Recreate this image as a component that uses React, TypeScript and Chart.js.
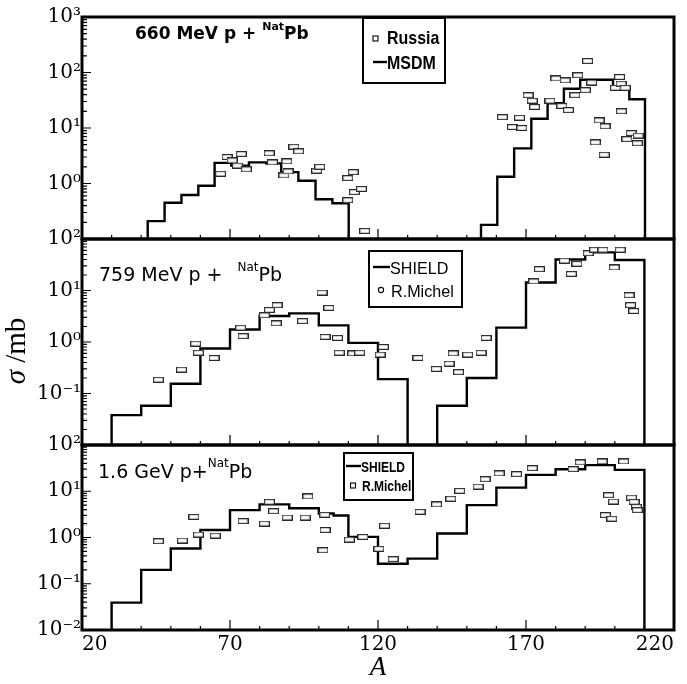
import React, { useEffect, useRef } from 'react';
import { Chart, registerables } from 'chart.js';

Chart.register(...registerables);

// ---------------- data ----------------
const xTickLabels = [20, 70, 120, 170, 220];

// Panel 1: 660 MeV p + natPb  (MSDM histogram, Russia data)
const p1MsdmEdgesLow = [42.2, 47.9, 53.6, 59.3, 64.8, 70.4, 76.4, 82.2, 87.3, 93.1, 98.9, 104.6, 110.1];
const p1MsdmValuesLow = [0.21, 0.45, 0.62, 0.91, 2.35, 2.1, 2.4, 2.3, 1.6, 1.12, 0.52, 0.44];
const p1MsdmEdgesHigh = [154.8, 160.3, 166.0, 171.8, 177.3, 182.8, 188.3, 193.8, 199.4, 204.9, 210.2];
const p1MsdmValuesHigh = [0.18, 1.32, 4.3, 14.7, 28, 51, 74, 74, 56, 33];
const p1RussiaA = [66.8, 69.0, 70.7, 72.5, 73.8, 75.5, 83.2, 84.3, 88.2, 89.2, 89.6, 91.6, 93.2, 99.3, 100.3,
  109.8, 111.6, 109.8, 112.0, 114.4, 115.5, 162.0, 165.4, 167.8, 168.6, 170.7, 172.1, 172.9, 178.1, 180.1,
  182.1, 183.2, 184.3, 186.5, 187.5, 190.0, 190.8, 192.2, 193.4, 194.7, 196.4, 196.7, 200.2, 201.6, 202.1,
  202.2, 203.5, 204.1, 205.5, 207.6, 207.9];
const p1RussiaSigma = [1.5, 3.0, 2.6, 2.1, 3.4, 1.8, 3.5, 2.4, 1.4, 2.5, 1.65, 4.6, 3.8, 1.7, 2.0,
  1.25, 1.6, 0.5, 0.7, 0.8, 0.14, 15.7, 10.4, 15.3, 10.0, 39, 31, 24, 31, 78,
  25, 72, 21, 39, 89, 48, 161, 66, 5.5, 13.7, 3.3, 10.7, 53, 83, 63,
  20, 53, 6.3, 8.1, 5.3, 7.3];

// Panel 2: 759 MeV p + natPb  (SHIELD histogram, R.Michel data)
const p2ShieldEdgesLow = [30, 40, 50, 60, 70, 80, 90, 100, 110, 120, 130];
const p2ShieldValuesLow = [0.038, 0.058, 0.155, 0.75, 1.75, 3.2, 3.6, 2.1, 0.96, 0.19];
const p2ShieldEdgesHigh = [140, 150, 160, 170, 180, 190, 200, 210];
const p2ShieldValuesHigh = [0.058, 0.2, 1.9, 14.3, 40, 55, 39];
const p2MichelA = [45.8, 53.6, 58.4, 59.3, 64.6, 73.6, 74.4, 81.6, 83.3, 85.6, 85.9, 94.5, 101.1, 102.1, 103.4,
  106.3, 106.9, 111.5, 113.8, 120.7, 121.8, 133.5, 139.7, 144.0, 145.4, 147.2, 150.3, 154.8, 156.5, 172.6,
  174.5, 183.0, 185.3, 187.2, 191.0, 193.2, 196.0, 199.8, 201.8, 204.8, 205.3, 206.4];
const p2MichelSigma = [0.185, 0.29, 0.93, 0.62, 0.49, 1.9, 1.3, 3.3, 4.2, 2.3, 5.2, 2.55, 9.1, 1.26, 4.6,
  1.2, 0.62, 0.6, 0.62, 0.57, 0.8, 0.49, 0.3, 0.38, 0.6, 0.26, 0.57, 0.62, 1.2, 15,
  26, 38, 21, 33, 53, 62, 62, 28, 62, 8.1, 5.2, 4.0];

// Panel 3: 1.6 GeV p + natPb  (SHIELD histogram, R.Michel data)
const p3ShieldEdges = [30, 40, 50, 60, 70, 80, 90, 100, 105, 110, 120, 130, 140, 150, 160, 170, 180, 190, 200, 210];
const p3ShieldValues = [0.039, 0.2, 0.58, 1.45, 3.9, 5.2, 4.3, 3.3, 3.0, 1.03, 0.27, 0.35, 1.22, 5.0, 12, 22.6, 30, 36.7, 29];
const p3MichelA = [45.8, 53.9, 57.8, 59.3, 65.0, 74.4, 81.6, 83.3, 84.7, 89.3, 95.4, 96.3, 101.4, 102.0, 102.1,
  110.3, 114.9, 120.3, 122.2, 125.1, 134.2, 139.8, 144.6, 147.6, 153.8, 156.2, 160.9, 166.8, 172.1, 185.9,
  188.3, 195.7, 196.8, 197.9, 199.0, 199.5, 203.0, 205.6, 206.5, 207.3, 207.6];
const p3MichelSigma = [0.83, 0.86, 2.8, 1.16, 1.1, 2.26, 2.0, 5.9, 3.7, 2.7, 2.7, 7.7, 0.53, 3.1, 1.45,
  0.9, 1.03, 0.57, 1.8, 0.34, 3.6, 5.2, 6.9, 10.2, 12.6, 18.2, 24.3, 23.4, 31.6, 30,
  42, 44, 3.05, 8.2, 2.55, 6.0, 44, 7.3, 5.9, 4.6, 3.9];

// ---------------- helpers ----------------
type Pt = { x: number; y: number | null };

function histogramPoints(groups: { edges: number[]; values: number[] }[], floor: number): Pt[] {
  const pts: Pt[] = [];
  groups.forEach((g, gi) => {
    if (gi > 0) pts.push({ x: (pts[pts.length - 1].x + g.edges[0]) / 2, y: null });
    pts.push({ x: g.edges[0], y: floor });
    g.values.forEach((v, i) => pts.push({ x: g.edges[i], y: v }));
    const last = g.edges[g.edges.length - 1];
    pts.push({ x: last, y: g.values[g.values.length - 1] });
    pts.push({ x: last, y: floor });
  });
  return pts;
}

function scatterPoints(a: number[], s: number[]): Pt[] {
  return a.map((x, i) => ({ x, y: s[i] }));
}

const SUP: Record<string, string> = {
  '-': '\u207B', '0': '\u2070', '1': '\u00B9', '2': '\u00B2', '3': '\u00B3',
  '4': '\u2074', '5': '\u2075', '6': '\u2076', '7': '\u2077', '8': '\u2078', '9': '\u2079',
};

function powerLabel(v: number, min: number, hideMin: boolean): string {
  const e = Math.log10(v);
  const r = Math.round(e);
  if (Math.abs(e - r) > 1e-6) return '';
  if (hideMin && Math.abs(v - min) < min * 1e-6) return '';
  return '10' + String(r).split('').map((c) => SUP[c]).join('');
}

function makeRectMarker(): HTMLCanvasElement {
  const c = document.createElement('canvas');
  c.width = 11;
  c.height = 6;
  const g = c.getContext('2d')!;
  g.fillStyle = '#ffffff';
  g.fillRect(0.6, 0.6, 9.8, 4.8);
  g.strokeStyle = '#2a2a2a';
  g.lineWidth = 1.2;
  g.strokeRect(0.6, 0.6, 9.8, 4.8);
  return c;
}

function fillScaledText(ctx: CanvasRenderingContext2D, text: string, x: number, y: number, sx: number) {
  ctx.save();
  ctx.translate(x, y);
  ctx.scale(sx, 1);
  ctx.fillText(text, 0, 0);
  ctx.restore();
}

// ---------------- decoration plugin (frame, inward ticks, panel text, legend) ----------------
const decorPlugin = {
  id: 'decor',
  afterDraw(chart: any, _args: any, opts: any) {
    const { ctx, chartArea: a, scales } = chart;
    const xs = scales.x;
    const ys = scales.y;
    ctx.save();
    ctx.strokeStyle = '#000';
    ctx.fillStyle = '#000';

    // inward tick marks
    ctx.lineWidth = 1.2;
    ctx.beginPath();
    const k0 = Math.floor(Math.log10(ys.min) + 1e-9);
    const k1 = Math.ceil(Math.log10(ys.max) - 1e-9);
    for (let k = k0; k <= k1; k++) {
      for (let m = 1; m <= 9; m++) {
        const v = m * Math.pow(10, k);
        if (v < ys.min * (1 - 1e-9) || v > ys.max * (1 + 1e-9)) continue;
        const py = ys.getPixelForValue(v);
        const len = m === 1 ? 9 : 5;
        ctx.moveTo(a.left, py);
        ctx.lineTo(a.left + len, py);
      }
    }
    for (let v = xs.min; v <= xs.max + 1e-9; v += opts.xStep) {
      const px = xs.getPixelForValue(v);
      const len = xTickLabels.includes(Math.round(v)) ? 10 : 4;
      ctx.moveTo(px, a.bottom);
      ctx.lineTo(px, a.bottom - len);
    }
    ctx.stroke();

    // frame
    ctx.lineWidth = 3;
    ctx.strokeRect(a.left, a.top, a.right - a.left, a.bottom - a.top);

    // panel title
    const t = opts.title;
    if (t) {
      let x = t.x;
      ctx.textAlign = 'left';
      ctx.textBaseline = 'alphabetic';
      for (const p of t.parts) {
        ctx.font = p.font;
        ctx.fillText(p.text, x, t.y + (p.dy || 0));
        x += ctx.measureText(p.text).width + (p.gap || 0);
      }
    }

    // legend
    const L = opts.legend;
    if (L) {
      ctx.lineWidth = 2;
      ctx.strokeRect(L.left, L.top, L.right - L.left, L.bottom - L.top);
      ctx.font = L.font;
      ctx.textAlign = 'left';
      ctx.textBaseline = 'alphabetic';
      for (const row of L.rows) {
        const ds = chart.data.datasets[row.datasetIndex];
        if (row.symbol === 'line') {
          ctx.lineWidth = ds.borderWidth;
          ctx.beginPath();
          ctx.moveTo(L.symbolLeft, row.symbolY);
          ctx.lineTo(L.symbolRight, row.symbolY);
          ctx.stroke();
        } else if (row.symbol === 'rect') {
          ctx.lineWidth = 1.1;
          ctx.strokeRect(row.symbolX - 2.5, row.symbolY - 2.5, 5, 5);
        } else {
          ctx.lineWidth = 1.1;
          ctx.beginPath();
          ctx.arc(row.symbolX, row.symbolY, 2.6, 0, Math.PI * 2);
          ctx.stroke();
        }
        fillScaledText(ctx, ds.label, row.textX, row.baseline, L.scaleX || 1);
      }
    }

    // y-axis title spanning all panels
    const yt = opts.yTitle;
    if (yt) {
      ctx.translate(yt.x, yt.y);
      ctx.rotate(-Math.PI / 2);
      ctx.textAlign = 'left';
      ctx.textBaseline = 'alphabetic';
      const fItalic = `italic ${yt.size}px "Liberation Serif", serif`;
      const fRoman = `${yt.size}px "Liberation Serif", serif`;
      ctx.font = fItalic;
      const w1 = ctx.measureText(yt.symbol).width;
      ctx.font = fRoman;
      const w2 = ctx.measureText(yt.rest).width;
      const start = -(w1 + w2) / 2;
      ctx.font = fItalic;
      ctx.fillText(yt.symbol, start, 0);
      ctx.font = fRoman;
      ctx.fillText(yt.rest, start + w1, 0);
    }
    ctx.restore();
  },
};

// ---------------- panel specs ----------------
const W = 687;
const H = 684;
const PLOT_LEFT = 82;
const PLOT_RIGHT = 674;

interface PanelSpec {
  top: number;
  bottom: number;
  yMin: number;
  yMax: number;
  hideMinLabel: boolean;
  showX: boolean;
  modelLabel: string;
  modelGroups: { edges: number[]; values: number[] }[];
  expLabel: string;
  expA: number[];
  expSigma: number[];
  decor: any;
}

const bold17 = 'bold 17px "DejaVu Sans", sans-serif';
const bold11 = 'bold 11px "DejaVu Sans", sans-serif';
const reg19 = '19px "DejaVu Sans", sans-serif';
const reg12 = '12px "DejaVu Sans", sans-serif';

const panels: PanelSpec[] = [
  {
    top: 17, bottom: 239, yMin: 0.1, yMax: 1000, hideMinLabel: true, showX: false,
    modelLabel: 'MSDM',
    modelGroups: [
      { edges: p1MsdmEdgesLow, values: p1MsdmValuesLow },
      { edges: p1MsdmEdgesHigh, values: p1MsdmValuesHigh },
    ],
    expLabel: 'Russia', expA: p1RussiaA, expSigma: p1RussiaSigma,
    decor: {
      xStep: 10,
      title: { x: 135, y: 39, parts: [
        { text: '660 MeV p + ', font: bold17 },
        { text: 'Nat', font: bold11, dy: -9, gap: 0 },
        { text: 'Pb', font: bold17 },
      ] },
      legend: {
        left: 363, top: 18, right: 445, bottom: 83,
        font: 'bold 19px "Liberation Sans", Arial, sans-serif',
        scaleX: 0.84,
        symbolLeft: 373, symbolRight: 387,
        rows: [
          { datasetIndex: 1, symbol: 'rect', symbolX: 375.5, symbolY: 38.5, textX: 387, baseline: 43.5 },
          { datasetIndex: 0, symbol: 'line', symbolY: 62, textX: 387, baseline: 68.5 },
        ],
      },
    },
  },
  {
    top: 239, bottom: 445, yMin: 0.01, yMax: 100, hideMinLabel: true, showX: false,
    modelLabel: 'SHIELD',
    modelGroups: [
      { edges: p2ShieldEdgesLow, values: p2ShieldValuesLow },
      { edges: p2ShieldEdgesHigh, values: p2ShieldValuesHigh },
    ],
    expLabel: 'R.Michel', expA: p2MichelA, expSigma: p2MichelSigma,
    decor: {
      xStep: 10,
      title: { x: 99, y: 280.5, parts: [
        { text: '759 MeV p +', font: reg19, gap: 15 },
        { text: 'Nat', font: reg12, dy: -10 },
        { text: 'Pb', font: reg19 },
      ] },
      legend: {
        left: 369, top: 251, right: 462, bottom: 307,
        font: '17px "Liberation Sans", Arial, sans-serif',
        scaleX: 0.95,
        symbolLeft: 373, symbolRight: 390,
        rows: [
          { datasetIndex: 0, symbol: 'line', symbolY: 267, textX: 390, baseline: 273.5 },
          { datasetIndex: 1, symbol: 'circle', symbolX: 381, symbolY: 290, textX: 391, baseline: 296.5 },
        ],
      },
      yTitle: { x: 25, y: 351, size: 29, symbol: '\u03C3', rest: ' /mb' },
    },
  },
  {
    top: 445, bottom: 630, yMin: 0.01, yMax: 100, hideMinLabel: false, showX: true,
    modelLabel: 'SHIELD',
    modelGroups: [{ edges: p3ShieldEdges, values: p3ShieldValues }],
    expLabel: 'R.Michel', expA: p3MichelA, expSigma: p3MichelSigma,
    decor: {
      xStep: 10,
      title: { x: 98, y: 478, parts: [
        { text: '1.6 GeV p+', font: reg19 },
        { text: 'Nat', font: reg12, dy: -11 },
        { text: 'Pb', font: reg19 },
      ] },
      legend: {
        left: 344, top: 453, right: 413, bottom: 500,
        font: 'bold 15px "Liberation Sans", Arial, sans-serif',
        scaleX: 0.8,
        symbolLeft: 346, symbolRight: 361,
        rows: [
          { datasetIndex: 0, symbol: 'line', symbolY: 466, textX: 361, baseline: 471.5 },
          { datasetIndex: 1, symbol: 'rect', symbolX: 353, symbolY: 485.5, textX: 362, baseline: 490.5 },
        ],
      },
    },
  },
];

function buildConfig(spec: PanelSpec): any {
  const marker = makeRectMarker();
  const xAxisHeight = 54;
  return {
    type: 'scatter',
    data: {
      datasets: [
        {
          type: 'line',
          label: spec.modelLabel,
          data: histogramPoints(spec.modelGroups, spec.yMin),
          borderColor: '#000',
          borderWidth: 2.4,
          pointRadius: 0,
          stepped: true,
          fill: false,
          spanGaps: false,
          showLine: true,
          order: 1,
        },
        {
          type: 'scatter',
          label: spec.expLabel,
          data: scatterPoints(spec.expA, spec.expSigma),
          pointStyle: marker,
          pointRadius: 4,
          showLine: false,
          order: 0,
        },
      ],
    },
    options: {
      animation: false,
      responsive: false,
      events: [],
      layout: {
        padding: {
          left: 0,
          right: W - PLOT_RIGHT,
          top: spec.top,
          bottom: spec.showX ? H - spec.bottom - xAxisHeight : H - spec.bottom,
        },
      },
      plugins: {
        legend: { display: false },
        tooltip: { enabled: false },
        decor: spec.decor,
      },
      scales: {
        x: {
          type: 'linear',
          min: 20,
          max: 220,
          display: spec.showX,
          grid: { display: false, drawTicks: false },
          border: { display: false },
          ticks: {
            stepSize: 10,
            autoSkip: false,
            maxRotation: 0,
            align: 'inner',
            padding: 3,
            color: '#000',
            font: { family: '"DejaVu Serif", serif', size: 20 },
            callback: (v: number) => (xTickLabels.includes(Math.round(v)) ? String(Math.round(v)) : ''),
          },
          title: {
            display: spec.showX,
            text: 'A',
            color: '#000',
            padding: 0,
            font: { family: '"Liberation Serif", serif', size: 27, style: 'italic' },
          },
          afterFit: (s: any) => {
            s.paddingLeft = 0;
            s.paddingRight = 0;
            if (spec.showX) s.height = xAxisHeight;
          },
        },
        y: {
          type: 'logarithmic',
          min: spec.yMin,
          max: spec.yMax,
          grid: { display: false, drawTicks: false },
          border: { display: false },
          ticks: {
            autoSkip: false,
            padding: 1,
            color: '#000',
            font: { family: '"DejaVu Serif", serif', size: 20 },
            callback: (v: number) => powerLabel(v, spec.yMin, spec.hideMinLabel),
          },
          afterFit: (s: any) => {
            s.width = PLOT_LEFT;
            s.paddingTop = 0;
            s.paddingBottom = 0;
          },
        },
      },
    },
    plugins: [decorPlugin],
  };
}

function Panel({ spec }: { spec: PanelSpec }) {
  const ref = useRef<HTMLCanvasElement>(null);
  useEffect(() => {
    const chart = new Chart(ref.current!, buildConfig(spec));
    return () => chart.destroy();
  }, [spec]);
  return (
    <canvas
      ref={ref}
      width={W}
      height={H}
      style={{ position: 'absolute', left: 0, top: 0, width: W, height: H }}
    />
  );
}

export default function App() {
  return (
    <div style={{ position: 'absolute', left: 0, top: 0, width: W, height: H, background: '#fff', overflow: 'hidden' }}>
      {panels.map((p, i) => (
        <Panel key={i} spec={p} />
      ))}
    </div>
  );
}
